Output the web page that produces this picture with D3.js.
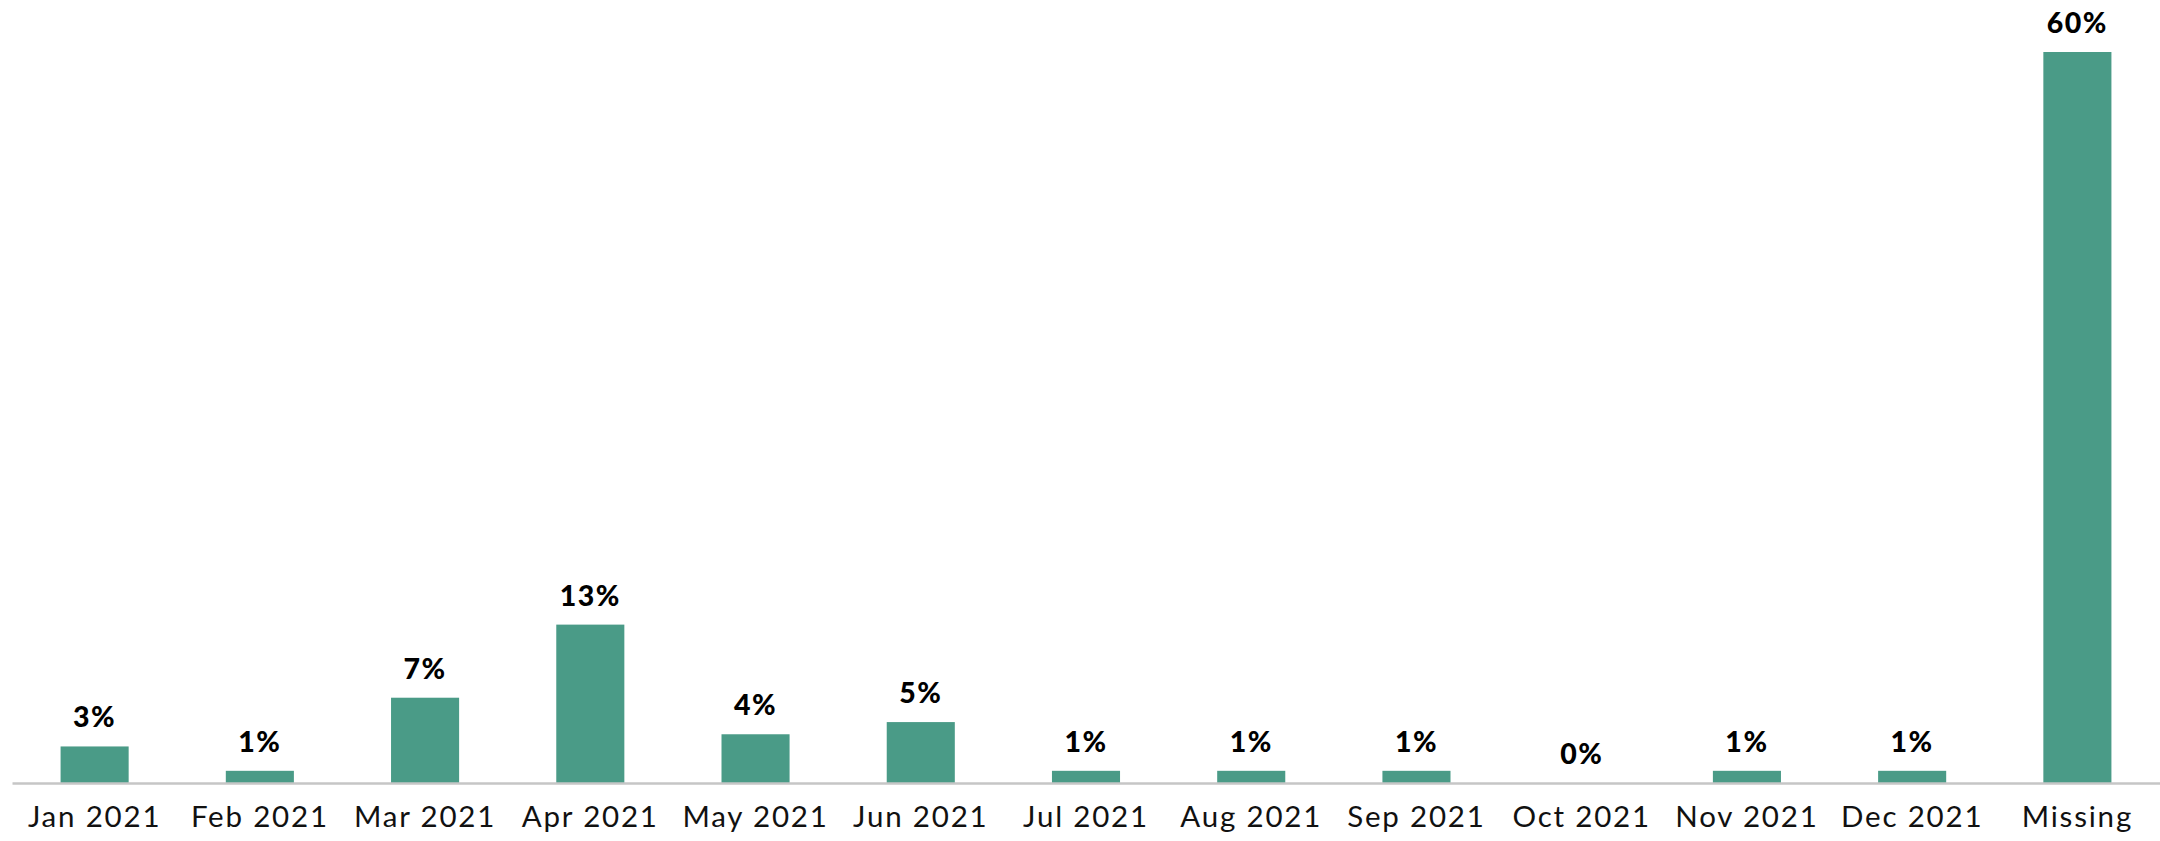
<!DOCTYPE html>
<html>
<head>
<meta charset="utf-8">
<script src="https://cdn.jsdelivr.net/npm/d3@7"></script>
<style>
  html, body { margin: 0; padding: 0; background: #ffffff; }
  svg { display: block; }
</style>
</head>
<body>
<svg id="chart" width="2160" height="841"></svg>
<script>
// Share of records by month (percent)
const categories = ["Jan 2021", "Feb 2021", "Mar 2021", "Apr 2021", "May 2021", "Jun 2021",
  "Jul 2021", "Aug 2021", "Sep 2021", "Oct 2021", "Nov 2021", "Dec 2021", "Missing"];
const values = [3, 1, 7, 13, 4, 5, 1, 1, 1, 0, 1, 1, 60];

const width = 2160, height = 841;
const margin = { top: 52, right: 0, bottom: 58, left: 12 };
const baseY = height - margin.bottom;

const svg = d3.select("#chart");

const x = d3.scaleBand()
  .domain(categories)
  .range([margin.left, width - margin.right])
  .paddingInner(0.588)
  .paddingOuter(0.294);

const y = d3.scaleLinear()
  .domain([0, 60])
  .range([baseY, margin.top]);

const data = categories.map((c, i) => ({ cat: c, val: values[i] }));

// Bars
svg.append("g")
  .selectAll("rect")
  .data(data)
  .join("rect")
  .attr("x", d => x(d.cat))
  .attr("y", d => y(d.val))
  .attr("width", x.bandwidth())
  .attr("height", d => y(0) - y(d.val))
  .attr("fill", "#4a9b87");

// Baseline axis
const xAxis = d3.axisBottom(x).tickSize(0).tickPadding(18);
const axisG = svg.append("g")
  .attr("transform", `translate(0,${baseY})`)
  .call(xAxis);
axisG.select(".domain")
  .attr("stroke", "#c6c6c6")
  .attr("stroke-width", 2.5);
axisG.selectAll("text")
  .attr("font-family", "Lato, 'Noto Sans', sans-serif")
  .attr("font-size", 29.5)
  .attr("letter-spacing", "1.8px")
  .attr("fill", "#111")
  .attr("dy", "0.88em");

// Value labels
svg.append("g")
  .selectAll("text")
  .data(data)
  .join("text")
  .attr("x", d => x(d.cat) + x.bandwidth() / 2)
  .attr("y", d => y(d.val) - 19)
  .attr("text-anchor", "middle")
  .attr("font-family", "Lato, 'Noto Sans', sans-serif")
  .attr("font-weight", 900)
  .attr("font-size", 28.5)
  .attr("letter-spacing", "1.5px")
  .attr("fill", "#000")
  .text(d => d.val + "%");
</script>
</body>
</html>
